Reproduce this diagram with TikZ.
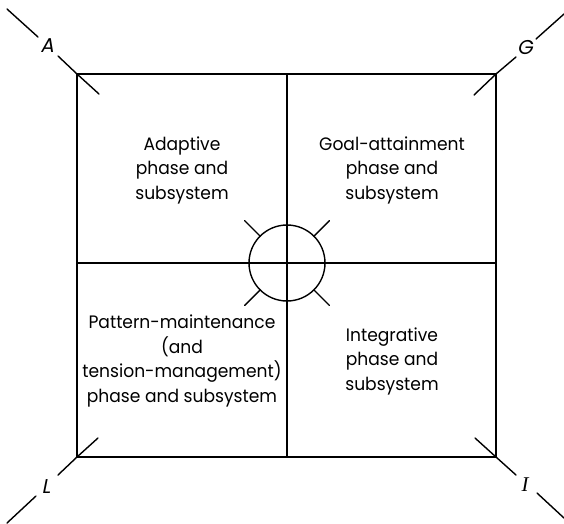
\documentclass[tikz,border=0pt]{standalone}
\usepackage{fontspec}
\usetikzlibrary{calc}
\setmainfont[FakeStretch=0.95]{Poppins}
\newfontfamily\letterfont[FakeSlant=0.2]{Poppins}
\newfontfamily\serifletter{Liberation Serif}
\begin{document}
\begin{tikzpicture}[x=1pt,y=-1pt,line width=1.4pt,line cap=round,
  quad/.style={align=center,font=\fontsize{18}{24.5}\selectfont,inner sep=0pt},
  corner/.style={font=\letterfont\fontsize{20}{20}\selectfont,inner sep=0pt}]
\useasboundingbox (0,0) rectangle (564,523);
% square corners
\coordinate (TL) at (77,74);
\coordinate (TR) at (496,74);
\coordinate (BL) at (77,457);
\coordinate (BR) at (496,457);
\coordinate (TM) at (287,74);
\coordinate (BM) at (287,457);
\coordinate (LM) at (77,263);
\coordinate (RM) at (496,263);
\coordinate (C) at (287,263);
\draw (TL) rectangle (BR);
\draw (TM) -- (BM);
\draw (LM) -- (RM);
\draw (C) circle[radius=38];
\foreach \a in {45,135,225,315}
  \draw ($(C)+(\a:38)$) -- ($(C)+(\a:60)$);
% corner diagonals
\coordinate (a1) at (7,9);   \coordinate (a2) at (38,37);
\coordinate (a3) at (58,56); \coordinate (a4) at (99,94);
\node[corner] (A) at (47,46) {A};
\draw (a1) -- (a2);
\draw (a3) -- (TL) -- (a4);
\coordinate (g1) at (564,14); \coordinate (g2) at (536,39);
\coordinate (g3) at (516,57); \coordinate (g4) at (474,95);
\node[corner] (G) at (525,48) {G};
\draw (g1) -- (g2);
\draw (g3) -- (TR) -- (g4);
\coordinate (l1) at (7,523);  \coordinate (l2) at (36,496);
\coordinate (l3) at (58,475); \coordinate (l4) at (98,438);
\node[corner] (L) at (46,487) {L};
\draw (l1) -- (l2);
\draw (l3) -- (BL) -- (l4);
\coordinate (i1) at (564,518); \coordinate (i2) at (537,493);
\coordinate (i3) at (516,475); \coordinate (i4) at (475,438);
\node[inner sep=0pt,font=\serifletter\itshape\fontsize{21}{21}\selectfont] (I) at (525,485) {I};
\draw (i1) -- (i2);
\draw (i3) -- (BR) -- (i4);
% texts
\node[quad] (adapt) at (182,170) {Adaptive\\phase and\\subsystem};
\node[quad] (goal) at (392,170) {Goal-attainment\\phase and\\subsystem};
\node[quad] (pattern) at (182,361) {Pattern-maintenance\\(and\\tension-management)\\phase and subsystem};
\node[quad] (integ) at (392,361) {Integrative\\phase and\\subsystem};
\end{tikzpicture}
\end{document}
